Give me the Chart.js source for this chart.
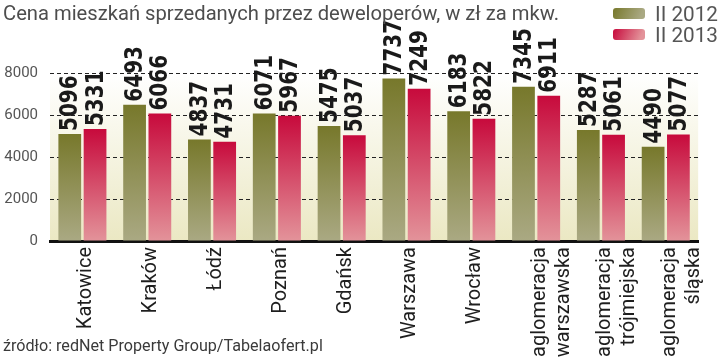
<!DOCTYPE html>
<html>
<head>
<meta charset="utf-8">
<script src="https://cdn.jsdelivr.net/npm/chart.js@4/dist/chart.umd.min.js"></script>
<style>
  body { margin: 0; background: #fff; }
  canvas { display: block; }
</style>
</head>
<body>
<canvas id="pricesChart" width="720" height="361"></canvas>
<script>
const categories = [
  'Katowice', 'Kraków', 'Łódź', 'Poznań', 'Gdańsk', 'Warszawa', 'Wrocław',
  ['aglomeracja', 'warszawska'], ['aglomeracja', 'trójmiejska'], ['aglomeracja', 'śląska']
];
const seriesNames = ['II 2012', 'II 2013'];
const prices2012 = [5096, 6493, 4837, 6071, 5475, 7737, 6183, 7345, 5287, 4490];
const prices2013 = [5331, 6066, 4731, 5967, 5037, 7249, 5822, 6911, 5061, 5077];
const yMin = 0;
const yMax = 8000;
const yStep = 2000;

const titleText = 'Cena mieszkań sprzedanych przez deweloperów, w zł za mkw.';
const sourceText = 'źródło: redNet Property Group/Tabelaofert.pl';

const olive = ['#77782b', '#aaa983'];
const crimson = ['#c70a3c', '#e3939a'];

// vertical gradient from the top of each bar down to the zero line
function barFill(colors) {
  return function(ctx) {
    const chart = ctx.chart;
    if (ctx.type !== 'data' || !chart.chartArea) return colors[0];
    const y = chart.scales.y;
    const top = y.getPixelForValue(ctx.raw);
    const base = y.getPixelForValue(0);
    const g = chart.ctx.createLinearGradient(0, top, 0, base);
    g.addColorStop(0, colors[0]);
    g.addColorStop(1, colors[1]);
    return g;
  };
}

// fit a font size so the text spans the given width
function fitFont(ctx, text, family, weight, width) {
  ctx.font = weight + ' 20px ' + family;
  const w = ctx.measureText(text).width;
  return weight + ' ' + (20 * width / w).toFixed(2) + 'px ' + family;
}

const plotBackground = {
  id: 'plotBackground',
  beforeDraw(chart) {
    const { ctx, chartArea: a } = chart;
    const g = ctx.createLinearGradient(0, a.top, 0, a.bottom);
    g.addColorStop(0, '#ffffff');
    g.addColorStop(1, '#ebe8c3');
    ctx.save();
    ctx.fillStyle = g;
    ctx.fillRect(a.left, a.top, a.right - a.left, a.bottom - a.top);
    ctx.restore();
  }
};

const valueLabels = {
  id: 'valueLabels',
  afterDatasetsDraw(chart) {
    const ctx = chart.ctx;
    ctx.save();
    ctx.fillStyle = '#1a1a1a';
    ctx.font = "bold 25px 'DejaVu Sans', sans-serif";
    ctx.textAlign = 'left';
    ctx.textBaseline = 'middle';
    chart.data.datasets.forEach((ds, i) => {
      chart.getDatasetMeta(i).data.forEach((bar, j) => {
        ctx.save();
        ctx.translate(bar.x, bar.y - 3);
        ctx.rotate(-Math.PI / 2);
        ctx.scale(0.8, 1); // narrow the digits like the condensed original
        ctx.fillText(String(ds.data[j]), 0, 1);
        ctx.restore();
      });
    });
    ctx.restore();
  }
};

const frameTexts = {
  id: 'frameTexts',
  afterDraw(chart) {
    const ctx = chart.ctx;
    ctx.save();
    ctx.textAlign = 'left';
    ctx.textBaseline = 'alphabetic';

    ctx.fillStyle = '#4d4d4d';
    ctx.font = fitFont(ctx, titleText, 'Roboto', 'normal', 556);
    ctx.fillText(titleText, 3, 20);

    ctx.fillStyle = '#3a3a3a';
    ctx.font = fitFont(ctx, sourceText, 'Roboto', 'normal', 320);
    ctx.fillText(sourceText, 3, 351);

    // legend
    const swatches = [olive, crimson];
    const rows = [8, 29];
    seriesNames.forEach((name, i) => {
      const y0 = rows[i];
      const g = ctx.createLinearGradient(613, y0, 640, y0 + 11);
      g.addColorStop(0, swatches[i][0]);
      g.addColorStop(1, swatches[i][1]);
      ctx.fillStyle = g;
      ctx.beginPath();
      ctx.roundRect(613, y0, 32, 11, 3);
      ctx.fill();
      ctx.fillStyle = '#555555';
      ctx.font = fitFont(ctx, name, 'Roboto', 'normal', 63);
      ctx.fillText(name, 655, y0 + 13);
    });
    ctx.restore();
  }
};

new Chart(document.getElementById('pricesChart'), {
  type: 'bar',
  data: {
    labels: categories,
    datasets: [{
      label: seriesNames[0],
      data: prices2012,
      backgroundColor: barFill(olive),
      categoryPercentage: 0.78,
      barPercentage: 0.9
    }, {
      label: seriesNames[1],
      data: prices2013,
      backgroundColor: barFill(crimson),
      categoryPercentage: 0.78,
      barPercentage: 0.9
    }]
  },
  options: {
    responsive: false,
    animation: false,
    layout: { padding: { top: 73, right: 5, left: 0, bottom: 0 } },
    plugins: {
      legend: { display: false },
      title: { display: false },
      tooltip: { enabled: false }
    },
    scales: {
      x: {
        grid: { display: false, drawTicks: false },
        border: { display: true, color: '#111111', width: 3 },
        ticks: {
          autoSkip: false,
          minRotation: 90,
          maxRotation: 90,
          padding: 6,
          labelOffset: 4,
          color: '#1e1e1e',
          font: { family: 'Roboto', size: 20 }
        },
        afterFit(scale) { scale.height = 120; }
      },
      y: {
        min: yMin,
        max: yMax,
        grid: {
          drawTicks: false,
          color: ctx => ctx.tick && ctx.tick.value === 0 ? 'rgba(0,0,0,0)' : '#222222',
          lineWidth: 1
        },
        border: { display: false, dash: [4, 3] },
        ticks: {
          stepSize: yStep,
          padding: 12,
          color: '#555555',
          font: { family: 'Roboto', size: 15 },
          callback: value => String(value)
        },
        afterFit(scale) { scale.width = 50; }
      }
    }
  },
  plugins: [plotBackground, valueLabels, frameTexts]
});
</script>
</body>
</html>
